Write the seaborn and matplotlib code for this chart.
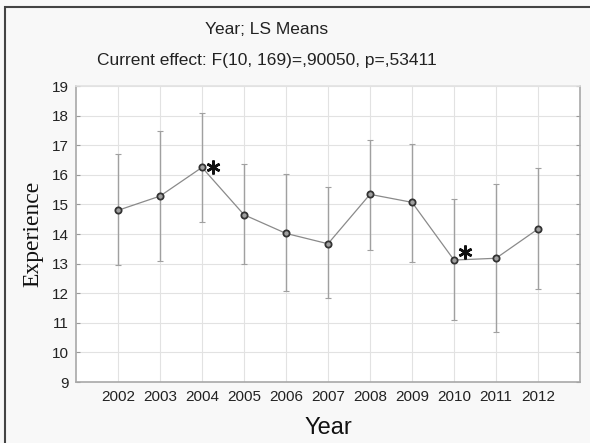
import numpy as np
import pandas as pd
import matplotlib
matplotlib.use("Agg")
import matplotlib.pyplot as plt
import seaborn as sns
from matplotlib.patches import Rectangle

# ===============================
# DATA
# ===============================
years = [2002, 2003, 2004, 2005, 2006, 2007, 2008, 2009, 2010, 2011, 2012]
ls_mean = [14.80, 15.28, 16.25, 14.65, 14.02, 13.67, 15.34, 15.07, 13.12, 13.18, 14.17]
ci_upper = [16.70, 17.48, 18.08, 16.35, 16.03, 15.58, 17.19, 17.03, 15.18, 15.69, 16.23]
ci_lower = [12.95, 13.10, 14.42, 12.98, 12.06, 11.85, 13.45, 13.07, 11.08, 10.69, 12.14]
marked_years = [2004, 2010]

df = pd.DataFrame({"Year": years, "Mean": ls_mean, "Upper": ci_upper, "Lower": ci_lower})

# ===============================
# STYLE
# ===============================
sns.set_style("whitegrid")
plt.rcParams["font.family"] = ["Liberation Sans", "DejaVu Sans"]

fig = plt.figure(figsize=(5.9, 4.43), dpi=100)
fig.patch.set_facecolor("#f8f8f8")
ax = fig.add_axes([76 / 590, 61 / 443, 504 / 590, 296 / 443])
ax.set_facecolor("white")

# frame around the whole picture
fig.patches.append(Rectangle((5 / 590, -0.05), 1.2, (443 - 7) / 443 + 0.05,
                             transform=fig.transFigure, fill=False,
                             edgecolor="#444444", linewidth=1.5))

# ===============================
# ERROR BARS + LINE
# ===============================
ax.errorbar(df["Year"], df["Mean"],
            yerr=[df["Mean"] - df["Lower"], df["Upper"] - df["Mean"]],
            fmt="none", ecolor="#a0a0a0", elinewidth=1.0, capsize=2.5, capthick=0.8, zorder=2)

sns.lineplot(data=df, x="Year", y="Mean", ax=ax, color="#8a8a8a", linewidth=0.9,
             marker="o", markersize=4.5, markerfacecolor="#a0a0a0",
             markeredgecolor="#333333", markeredgewidth=1.3, zorder=3)

# significance asterisks next to the marked years (nudged off the line)
marks = df[df["Year"].isin(marked_years)]
nudge_up = np.array([0.0, 0.27])
ax.plot(marks["Year"] + 0.27, marks["Mean"] + nudge_up, linestyle="none",
        marker=(6, 2, 0), markersize=10, markeredgewidth=1.8,
        color="#111111", zorder=4)

# ===============================
# AXES
# ===============================
ax.set_xlim(2001, 2013)
ax.set_ylim(9, 19)
ax.set_xticks(years)
ax.set_yticks(range(9, 20))
ax.grid(True, color="#e2e2e2", linewidth=0.8)
for side in ["left", "bottom", "right", "top"]:
    ax.spines[side].set_visible(True)
    ax.spines[side].set_color("#a8a8a8")
    ax.spines[side].set_linewidth(1.2)
ax.spines["top"].set_color("#e2e2e2")
ax.tick_params(axis="both", labelsize=11, colors="#222222", length=0, pad=6)
ax.tick_params(axis="y", left=True, length=3, color="#999999", direction="out", pad=5)
ax.tick_params(axis="y", right=True, length=3, color="#999999", direction="in")

ax.set_xlabel("Year", fontsize=17, color="#111111", labelpad=9)
ax.set_ylabel("Experience", fontsize=17, family="Liberation Serif", color="#111111", labelpad=6)

fig.text(267 / 590, 1 - 30 / 443, "Year; LS Means", ha="center", va="center",
         fontsize=12.5, color="#222222")
fig.text(267 / 590, 1 - 60 / 443, "Current effect: F(10, 169)=,90050, p=,53411",
         ha="center", va="center", fontsize=12.5, color="#222222")

plt.savefig("out.png", dpi=100, facecolor=fig.get_facecolor())
plt.close()
